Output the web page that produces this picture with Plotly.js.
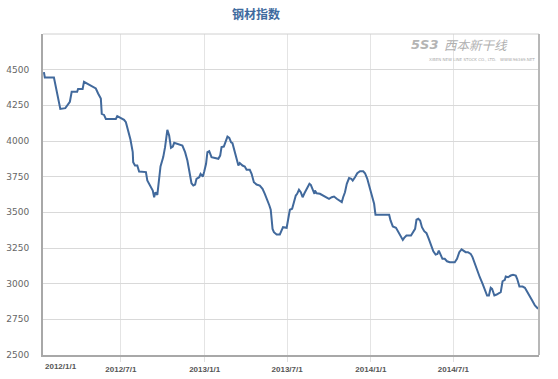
<!DOCTYPE html>
<html><head><meta charset="utf-8">
<script src="https://cdn.plot.ly/plotly-3.0.1.min.js"></script>
<style>html,body{margin:0;padding:0;background:#fff;}#chart{width:558px;height:379px;}</style>
</head><body><div id="chart"></div>
<script>
const chartTitle = '钢材指数';
const dates2012 = ['2012-01-14','2012-01-16','2012-02-05','2012-02-12','2012-02-19','2012-03-01','2012-03-07','2012-03-11','2012-03-15','2012-03-27','2012-03-29','2012-04-08','2012-04-11','2012-04-20','2012-05-01','2012-05-07','2012-05-12','2012-05-18','2012-05-20','2012-05-25','2012-05-29','2012-06-20','2012-06-23','2012-06-29','2012-07-08','2012-07-12','2012-07-17','2012-07-22','2012-07-27','2012-07-28','2012-08-01','2012-08-06','2012-08-10','2012-08-25','2012-08-28','2012-09-03','2012-09-09','2012-09-12','2012-09-15','2012-09-19','2012-09-22','2012-09-26','2012-10-02','2012-10-06','2012-10-11','2012-10-15','2012-10-19','2012-10-23','2012-10-26','2012-11-04','2012-11-13','2012-11-19','2012-11-24','2012-11-28','2012-12-03','2012-12-07','2012-12-11','2012-12-14','2012-12-20','2012-12-23','2012-12-28','2012-12-31'];
const values2012 = [4483,4445,4445,4330,4225,4230,4255,4275,4345,4345,4365,4365,4415,4398,4380,4368,4333,4298,4190,4183,4155,4155,4175,4162,4148,4132,4073,4010,3922,3852,3828,3828,3786,3782,3723,3688,3653,3606,3641,3622,3711,3822,3887,3957,4078,4038,3952,3961,3987,3980,3968,3922,3863,3793,3704,3688,3695,3735,3746,3770,3751,3786];
const dates2013 = ['2013-01-04','2013-01-07','2013-01-11','2013-01-16','2013-01-24','2013-01-31','2013-02-04','2013-02-07','2013-02-12','2013-02-17','2013-02-20','2013-02-24','2013-02-28','2013-03-03','2013-03-07','2013-03-12','2013-03-16','2013-03-19','2013-03-25','2013-03-30','2013-04-03','2013-04-10','2013-04-14','2013-04-19','2013-04-25','2013-05-02','2013-05-08','2013-05-13','2013-05-18','2013-05-23','2013-05-26','2013-05-28','2013-05-30','2013-06-02','2013-06-08','2013-06-15','2013-06-19','2013-06-22','2013-06-30','2013-07-03','2013-07-07','2013-07-12','2013-07-16','2013-07-20','2013-07-23','2013-07-27','2013-07-31','2013-08-04','2013-08-08','2013-08-13','2013-08-19','2013-08-22','2013-08-26','2013-08-30','2013-08-31','2013-09-04','2013-09-11','2013-09-18','2013-09-26','2013-10-01','2013-10-07','2013-10-12','2013-10-18','2013-10-25','2013-10-29','2013-11-01','2013-11-05','2013-11-09','2013-11-14','2013-11-19','2013-11-22','2013-11-27','2013-12-02','2013-12-08','2013-12-15','2013-12-19','2013-12-24','2013-12-28'];
const values2013 = [3840,3922,3929,3887,3880,3875,3898,3957,3961,4003,4031,4022,3991,3985,3934,3868,3828,3845,3828,3821,3798,3798,3770,3711,3695,3688,3665,3630,3595,3548,3518,3466,3384,3361,3345,3345,3373,3396,3392,3443,3518,3525,3565,3618,3630,3658,3641,3606,3634,3665,3700,3693,3653,3630,3653,3634,3630,3618,3606,3595,3606,3611,3595,3578,3571,3606,3641,3700,3740,3735,3723,3746,3774,3788,3788,3774,3735,3688];
const dates2014 = ['2014-01-01','2014-01-05','2014-01-08','2014-01-11','2014-02-10','2014-02-13','2014-02-18','2014-02-25','2014-03-02','2014-03-07','2014-03-12','2014-03-15','2014-03-20','2014-03-30','2014-04-04','2014-04-08','2014-04-11','2014-04-15','2014-04-19','2014-04-23','2014-04-28','2014-05-03','2014-05-08','2014-05-13','2014-05-18','2014-05-23','2014-05-27','2014-05-30','2014-06-03','2014-06-07','2014-06-12','2014-06-17','2014-06-23','2014-07-04','2014-07-09','2014-07-14','2014-07-19','2014-07-24','2014-07-28','2014-08-02','2014-08-08','2014-08-12','2014-08-17','2014-08-22','2014-08-28','2014-09-03','2014-09-08','2014-09-13','2014-09-17','2014-09-21','2014-09-24','2014-09-29','2014-10-04','2014-10-10','2014-10-13','2014-10-17','2014-10-22','2014-10-24','2014-10-29','2014-11-04','2014-11-09','2014-11-15','2014-11-18','2014-11-23','2014-11-30','2014-12-05','2014-12-10','2014-12-16','2014-12-22','2014-12-27','2014-12-31','2015-01-03'];
const values2014 = [3641,3606,3560,3483,3483,3443,3401,3392,3361,3338,3307,3321,3338,3338,3361,3384,3448,3455,3443,3396,3368,3354,3314,3267,3227,3204,3209,3232,3197,3174,3174,3157,3150,3150,3174,3221,3240,3232,3221,3221,3209,3186,3139,3092,3045,3000,2952,2917,2917,2971,2964,2917,2924,2933,2940,3017,3027,3050,3045,3057,3062,3057,3034,2980,2980,2971,2940,2910,2877,2847,2831,2824];
const xTickVals = ['2012-07-01','2013-01-01','2013-07-01','2014-01-01','2014-07-01'];
const xTickText = ['2012/7/1','2013/1/1','2013/7/1','2014/1/1','2014/7/1'];
const firstTickText = '2012/1/1';
const yTickVals = [2500,2750,3000,3250,3500,3750,4000,4250,4500];
const watermark = '西本新干线';
const watermarkLogo = '5S3';
const watermarkSub = 'XIBEN NEW LINE STOCK CO., LTD.   WWW.96369.NET';

const xs = dates2012.concat(dates2013, dates2014);
const ys = values2012.concat(values2013, values2014);

const trace = {
  x: xs, y: ys, type: 'scatter', mode: 'lines',
  line: {color: '#41699c', width: 2}, hoverinfo: 'x+y'
};

const xFont = {size: 8, color: '#555', family: 'Liberation Sans, Arial, sans-serif'};

const layout = {
  width: 558, height: 379,
  margin: {l: 43, r: 19, t: 34, b: 24, pad: 0},
  paper_bgcolor: '#ffffff', plot_bgcolor: '#ffffff',
  showlegend: false,
  font: {family: 'DejaVu Sans, sans-serif', color: '#666'},
  title: {text: '<b>' + chartTitle + '</b>', x: 0.459, xanchor: 'center', y: 0.962, yanchor: 'middle',
          font: {family: 'Noto Sans CJK SC', size: 12, color: '#3e6a9e'}},
  xaxis: {
    type: 'date', range: ['2012-01-12', '2015-01-05'],
    tickvals: xTickVals, ticktext: xTickText.map(t => '<b>' + t + '</b>'),
    tickfont: xFont,
    showgrid: true, gridcolor: '#e4e4e4', gridwidth: 1,
    ticks: 'outside', ticklen: 5, tickcolor: '#e0e0e0',
    showline: true, linecolor: '#a8a8a8', linewidth: 2, zeroline: false
  },
  yaxis: {
    range: [2500, 4750], tickvals: yTickVals,
    tickfont: {size: 9, color: '#666', family: 'DejaVu Sans'},
    showgrid: true, gridcolor: '#d9d9d9', gridwidth: 1,
    ticks: 'outside', ticklen: 10, tickcolor: 'rgba(0,0,0,0)',
    showline: true, linecolor: '#a8a8a8', linewidth: 2, zeroline: false
  },
  shapes: [
    {type: 'line', xref: 'paper', yref: 'paper', x0: 0, x1: 1, y0: 1, y1: 1, line: {color: '#d0d0d0', width: 1}},
    {type: 'line', xref: 'paper', yref: 'paper', x0: 1, x1: 1, y0: 0, y1: 1, line: {color: '#b8b8b8', width: 2}}
  ],
  annotations: [
    {text: '<b>' + firstTickText + '</b>', xref: 'paper', yref: 'paper', x: 0, y: 0, xanchor: 'left', yanchor: 'top',
     yshift: -5, showarrow: false, font: xFont},
    {text: '<i>' + watermark + '</i>', xref: 'paper', yref: 'paper', x: 0.942, y: 0.966, xanchor: 'right', yanchor: 'middle',
     showarrow: false, font: {size: 12.5, color: '#b0b0b0', family: 'Noto Sans CJK SC'}},
    {text: '<b><i>' + watermarkLogo + '</i></b>', xref: 'paper', yref: 'paper', x: 0.8, y: 0.966, xanchor: 'right', yanchor: 'middle',
     showarrow: false, font: {size: 13, color: '#b4b4b4', family: 'DejaVu Sans'}},
    {text: watermarkSub, xref: 'paper', yref: 'paper', x: 0.995, y: 0.92, xanchor: 'right', yanchor: 'middle',
     showarrow: false, font: {size: 4, color: '#aaa', family: 'DejaVu Sans'}}
  ]
};

Plotly.newPlot('chart', [trace], layout, {displayModeBar: false, staticPlot: true});
</script>
</body></html>
